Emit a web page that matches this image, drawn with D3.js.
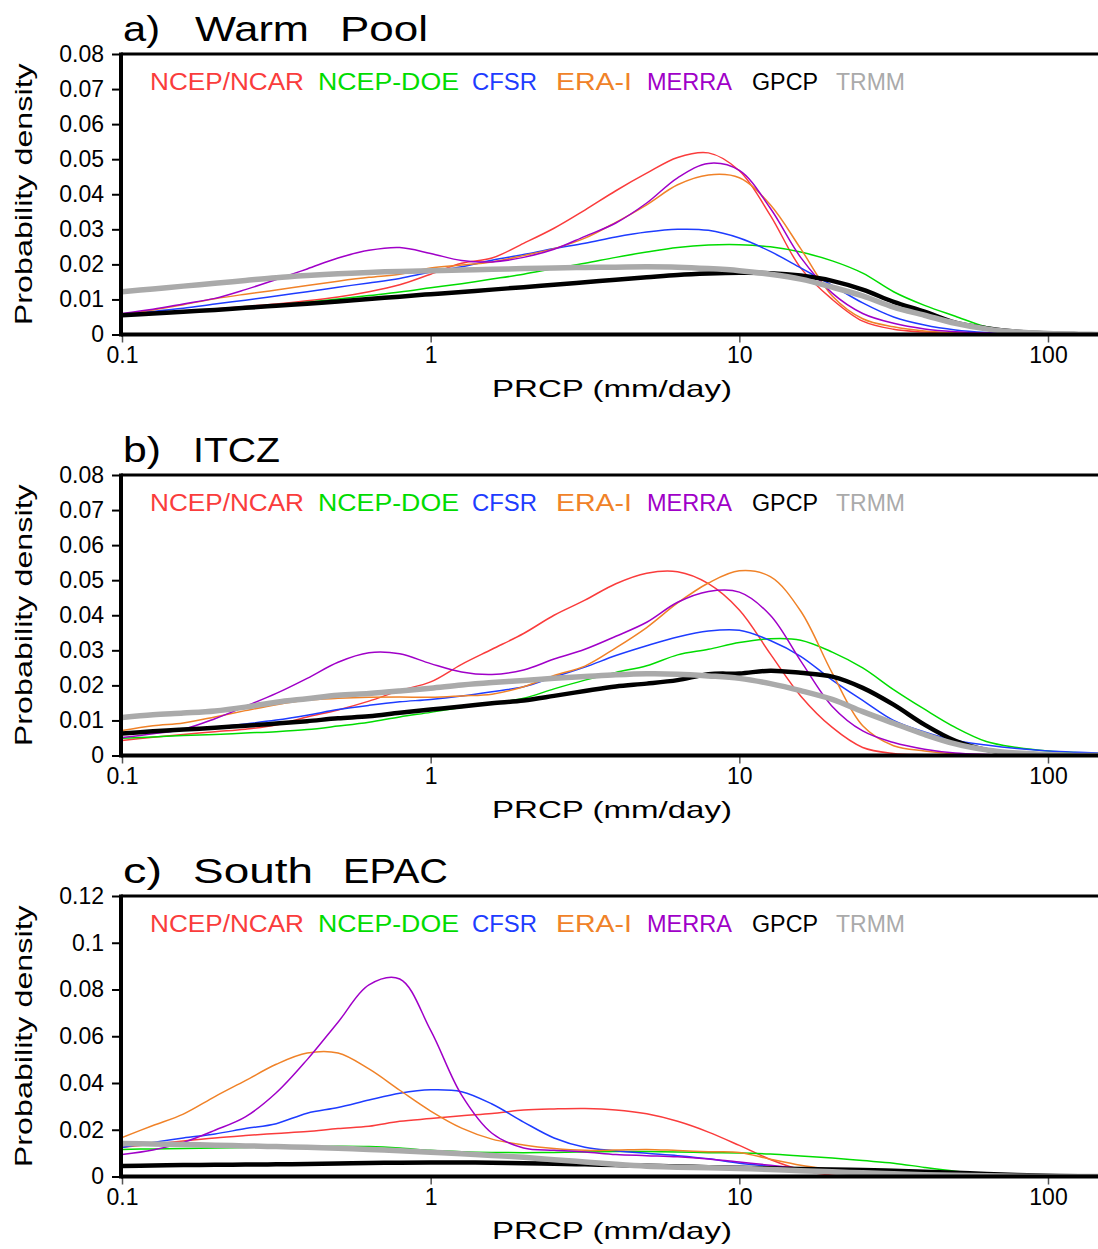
<!DOCTYPE html>
<html><head><meta charset="utf-8">
<script src="https://cdn.jsdelivr.net/npm/d3@7"></script>
<style>
body{margin:0;background:#fff}
svg{display:block}
text{font-family:"Liberation Sans",Arial,sans-serif}
</style>
</head><body>
<svg id="chart" width="1098" height="1249"></svg>
<script>
// ---------- data ----------
const prcpBins = [0.1,0.126,0.158,0.2,0.251,0.316,0.398,0.501,0.631,0.794,1,1.26,1.58,2,2.51,3.16,3.98,5.01,6.31,7.94,10,12.6,15.8,20,25.1,31.6,39.8,50.1,63.1,79.4,100,126,158];
const xTickValues = [0.1,1,10,100];
const seriesNames = ["NCEP/NCAR","NCEP-DOE","CFSR","ERA-I","MERRA","GPCP","TRMM"];
const seriesColors = ["#fa3c3c","#00dc00","#1e3cff","#f08228","#a000c8","#000000","#aaaaaa"];
const panelTitles = [["a)","Warm","Pool"],["b)","ITCZ"],["c)","South","EPAC"]];
const yTicksAB = [0,0.01,0.02,0.03,0.04,0.05,0.06,0.07,0.08];
const yTicksC = [0,0.02,0.04,0.06,0.08,0.1,0.12];

// a) Warm Pool
const warmPoolNcepNcar = [0.0055,0.0061,0.0067,0.0073,0.008,0.0087,0.0096,0.0107,0.0122,0.0142,0.0172,0.0203,0.0218,0.026,0.0303,0.0355,0.041,0.046,0.0505,0.0518,0.0467,0.034,0.019,0.010,0.0038,0.0015,0.0007,0.0003,0.0001,0,0,0,0];
const warmPoolNcepDoe = [0.0058,0.0062,0.0066,0.0071,0.0077,0.0084,0.0092,0.0101,0.0111,0.0121,0.0133,0.0145,0.0158,0.0172,0.0188,0.0203,0.022,0.0235,0.0248,0.0255,0.0256,0.025,0.0235,0.021,0.0175,0.0122,0.0083,0.0052,0.0022,0.0009,0.0003,0.0001,0];
const warmPoolCfsr = [0.0058,0.0066,0.0075,0.0087,0.0098,0.011,0.0122,0.0135,0.0147,0.016,0.0178,0.0193,0.0212,0.0228,0.0245,0.026,0.0278,0.0292,0.030,0.0297,0.0275,0.0237,0.019,0.014,0.009,0.005,0.0027,0.0013,0.0006,0.0003,0.0001,0,0];
const warmPoolEraI = [0.0058,0.007,0.0085,0.0102,0.0115,0.0127,0.014,0.0152,0.0163,0.0172,0.019,0.0198,0.0207,0.0225,0.0245,0.0275,0.032,0.037,0.0427,0.0455,0.0447,0.037,0.0245,0.011,0.0045,0.0022,0.001,0.0005,0.0002,0.0001,0,0,0];
const warmPoolMerra = [0.006,0.0072,0.0087,0.0103,0.0128,0.0157,0.0187,0.0218,0.024,0.0248,0.0231,0.0211,0.0207,0.022,0.0243,0.028,0.0318,0.0375,0.0447,0.0488,0.0468,0.036,0.022,0.0118,0.006,0.0032,0.0016,0.0008,0.0004,0.0002,0.0001,0,0];
const warmPoolGpcp = [0.0055,0.006,0.0065,0.007,0.0076,0.0082,0.0088,0.0094,0.0101,0.0108,0.0115,0.0121,0.0128,0.0135,0.0142,0.0149,0.0156,0.0163,0.017,0.0174,0.0176,0.0175,0.0168,0.0153,0.0128,0.0093,0.0065,0.0034,0.0018,0.0008,0.0003,0.0001,0];
const warmPoolTrmm = [0.0122,0.013,0.0138,0.0146,0.0154,0.0162,0.0168,0.0173,0.0177,0.018,0.0182,0.0184,0.0186,0.0188,0.019,0.0191,0.0192,0.0193,0.0192,0.0188,0.0182,0.0172,0.0158,0.0135,0.011,0.0078,0.0055,0.0032,0.0016,0.0007,0.0003,0.0001,0];

// b) ITCZ
const itczNcepNcar = [0.0043,0.0052,0.006,0.0068,0.0075,0.0087,0.011,0.013,0.0155,0.0185,0.021,0.026,0.0303,0.0348,0.040,0.0443,0.049,0.052,0.0524,0.049,0.0415,0.029,0.017,0.008,0.0023,0.0006,0.0002,0,0,0,0,0,0];
const itczNcepDoe = [0.0049,0.0053,0.0057,0.006,0.0064,0.0068,0.0074,0.0084,0.0095,0.011,0.0123,0.0137,0.0149,0.0163,0.019,0.0215,0.0237,0.0256,0.0287,0.0303,0.0322,0.0333,0.0329,0.0295,0.025,0.0188,0.0132,0.008,0.004,0.0023,0.0013,0.0008,0.0005];
const itczCfsr = [0.0062,0.0068,0.0074,0.0081,0.009,0.0101,0.0115,0.0131,0.0143,0.0153,0.016,0.017,0.0182,0.0196,0.0224,0.0252,0.0285,0.0313,0.0338,0.0355,0.0357,0.0328,0.0283,0.0215,0.0157,0.010,0.0067,0.0043,0.003,0.002,0.0013,0.0009,0.0006];
const itczEraI = [0.0071,0.0085,0.0093,0.011,0.0128,0.0145,0.0158,0.0163,0.0166,0.0167,0.0166,0.017,0.0175,0.0196,0.0228,0.0255,0.0307,0.0365,0.0435,0.0492,0.0527,0.051,0.0412,0.0235,0.0085,0.0028,0.0013,0.0005,0.0002,0,0,0,0];
const itczMerra = [0.0051,0.0062,0.0075,0.0105,0.014,0.0177,0.022,0.0266,0.0293,0.029,0.0262,0.0238,0.0231,0.0244,0.0275,0.0303,0.034,0.038,0.0437,0.0468,0.0466,0.040,0.027,0.014,0.007,0.0037,0.0018,0.0007,0.0003,0.0001,0,0,0];
const itczGpcp = [0.0063,0.0069,0.0074,0.0079,0.0085,0.0091,0.0098,0.0106,0.0112,0.0122,0.0131,0.014,0.0149,0.0157,0.017,0.0184,0.0197,0.0205,0.0215,0.0232,0.0234,0.0242,0.0236,0.0225,0.0193,0.0145,0.0088,0.0042,0.0016,0.0005,0.0002,0,0];
const itczTrmm = [0.0108,0.0116,0.0121,0.0127,0.0138,0.0152,0.0162,0.0172,0.0177,0.0184,0.0192,0.0201,0.0208,0.0214,0.022,0.0225,0.023,0.0233,0.0232,0.0227,0.022,0.0205,0.0185,0.016,0.0125,0.0092,0.006,0.0033,0.0016,0.0007,0.0003,0,0];

// c) South EPAC
const epacNcepNcar = [0.0125,0.0138,0.0152,0.0165,0.0175,0.0184,0.0192,0.0205,0.0215,0.0236,0.0248,0.026,0.027,0.0284,0.0289,0.0291,0.0285,0.0268,0.0236,0.019,0.0133,0.0073,0.0029,0.0005,0,0,0,0,0,0,0,0,0];
const epacNcepDoe = [0.0116,0.0118,0.012,0.0122,0.0124,0.0126,0.0128,0.0129,0.0128,0.0122,0.0112,0.0106,0.0103,0.0102,0.0103,0.0105,0.0107,0.0107,0.0105,0.0102,0.0101,0.0096,0.0088,0.0079,0.0068,0.0057,0.0039,0.0023,0.0011,0.0005,0.0002,0,0];
const epacCfsr = [0.0124,0.0146,0.0165,0.0182,0.0205,0.0226,0.0271,0.0295,0.0327,0.0356,0.0371,0.0363,0.031,0.0233,0.0165,0.0125,0.011,0.0099,0.0089,0.0076,0.0057,0.0044,0.0032,0.0022,0.0013,0.0007,0.0003,0,0,0,0,0,0];
const epacEraI = [0.0167,0.0218,0.0267,0.0342,0.041,0.048,0.0528,0.0528,0.046,0.0369,0.028,0.0207,0.016,0.0135,0.012,0.0112,0.0113,0.0116,0.0111,0.0106,0.0103,0.0074,0.0048,0.003,0.0015,0.0007,0.0003,0,0,0,0,0,0];
const epacMerra = [0.0094,0.0113,0.0146,0.0198,0.0255,0.0358,0.050,0.066,0.082,0.0845,0.0625,0.0348,0.0185,0.0122,0.0112,0.0105,0.0094,0.0089,0.0084,0.0075,0.0062,0.0048,0.0035,0.0022,0.0012,0.0006,0.0002,0,0,0,0,0,0];
const epacGpcp = [0.0045,0.0047,0.0049,0.005,0.0051,0.0052,0.0054,0.0056,0.0058,0.0059,0.006,0.006,0.0059,0.0057,0.0055,0.0052,0.0049,0.0046,0.0043,0.004,0.0037,0.0035,0.0032,0.003,0.0028,0.0025,0.002,0.0016,0.0011,0.0006,0.0003,0.0001,0];
const epacTrmm = [0.0141,0.0139,0.0137,0.0134,0.0131,0.0128,0.0125,0.0121,0.0116,0.011,0.0104,0.0097,0.009,0.0082,0.0072,0.0062,0.0052,0.0044,0.004,0.0037,0.0034,0.003,0.0025,0.002,0.0016,0.0012,0.0008,0.0005,0.0003,0.0001,0,0,0];

// ---------- build ----------
const panels = [
  {title: panelTitles[0], yMax: 0.08, yTicks: yTicksAB,
   series: [warmPoolNcepNcar, warmPoolNcepDoe, warmPoolCfsr, warmPoolEraI, warmPoolMerra, warmPoolGpcp, warmPoolTrmm]},
  {title: panelTitles[1], yMax: 0.08, yTicks: yTicksAB,
   series: [itczNcepNcar, itczNcepDoe, itczCfsr, itczEraI, itczMerra, itczGpcp, itczTrmm]},
  {title: panelTitles[2], yMax: 0.12, yTicks: yTicksC,
   series: [epacNcepNcar, epacNcepDoe, epacCfsr, epacEraI, epacMerra, epacGpcp, epacTrmm]}
];

const svg = d3.select("#chart");
const W = 1098;
const left = 122;
const tops = [54, 475, 896];
const plotH = 280.5;
const titleWordX = [[123, 195, 340], [123, 193], [123, 193, 343]];
const titleWordW = [[37, 114, 88], [38, 87], [39, 120, 105]];
const legendX = [150, 318, 472, 556, 647, 752, 836];
const legendW = [154, 141, 65, 76, 85, 66, 69];

const x = d3.scaleLog().domain([0.1, 100]).range([left, 1048]);

panels.forEach((p, pi) => {
  const top = tops[pi], bottom = top + plotH;
  const y = d3.scaleLinear().domain([0, p.yMax]).range([bottom, top]);
  const g = svg.append("g");

  const clipId = "clip" + pi;
  g.append("clipPath").attr("id", clipId).append("rect")
    .attr("x", left).attr("y", top - 2).attr("width", W - left).attr("height", plotH + 2);

  // title
  p.title.forEach((w, wi) => {
    g.append("text").attr("x", titleWordX[pi][wi]).attr("y", top - 13)
      .attr("font-size", 35).attr("fill", "#000")
      .attr("textLength", titleWordW[pi][wi]).attr("lengthAdjust", "spacingAndGlyphs")
      .text(w);
  });

  // lines
  const line = d3.line()
    .x((d, i) => x(prcpBins[i]))
    .y(d => y(d))
    .curve(d3.curveCatmullRom.alpha(0.5));
  const lg = g.append("g").attr("clip-path", `url(#${clipId})`);
  p.series.forEach((s, si) => {
    lg.append("path").datum(s)
      .attr("d", line)
      .attr("fill", "none")
      .attr("stroke", seriesColors[si])
      .attr("stroke-width", si === 5 ? 4.5 : (si === 6 ? 5.5 : 1.5))
      .attr("stroke-linejoin", "round")
      .attr("stroke-linecap", "round");
  });

  // legend
  seriesNames.forEach((n, si) => {
    g.append("text").attr("x", legendX[si]).attr("y", top + 36)
      .attr("font-size", 23).attr("fill", seriesColors[si])
      .attr("textLength", legendW[si]).attr("lengthAdjust", "spacingAndGlyphs")
      .text(n);
  });

  // y axis
  const ya = d3.axisLeft(y).tickValues(p.yTicks).tickSize(9).tickPadding(8)
    .tickFormat(d3.format("~g"));
  const yg = g.append("g").attr("transform", `translate(${left - 1},0)`).call(ya);
  yg.select(".domain").remove();
  yg.selectAll(".tick line").attr("stroke", "#000").attr("stroke-width", 2);
  yg.selectAll(".tick text").attr("font-size", 23).attr("fill", "#000")
    .attr("font-family", "Liberation Sans, Arial, sans-serif");

  // x axis
  const xa = d3.axisBottom(x).tickValues(xTickValues).tickSize(7).tickPadding(4)
    .tickFormat(d3.format("~g"));
  const xg = g.append("g").attr("transform", `translate(0,${bottom + 1})`).call(xa);
  xg.select(".domain").remove();
  xg.selectAll(".tick line").attr("stroke", "#555").attr("stroke-width", 1.5);
  xg.selectAll(".tick text").attr("font-size", 23).attr("fill", "#000")
    .attr("font-family", "Liberation Sans, Arial, sans-serif");

  // frame
  g.append("line").attr("x1", left - 1).attr("x2", W).attr("y1", top).attr("y2", top)
    .attr("stroke", "#000").attr("stroke-width", 3);
  g.append("line").attr("x1", left - 1).attr("x2", W).attr("y1", bottom).attr("y2", bottom)
    .attr("stroke", "#000").attr("stroke-width", 4);
  g.append("line").attr("x1", left - 1).attr("x2", left - 1).attr("y1", top - 1.5).attr("y2", bottom + 2)
    .attr("stroke", "#000").attr("stroke-width", 4);

  // axis titles
  g.append("text").attr("x", 492).attr("y", bottom + 62)
    .attr("font-size", 24).attr("fill", "#000")
    .attr("textLength", 240).attr("lengthAdjust", "spacingAndGlyphs")
    .text("PRCP (mm/day)");
  const cy = (top + bottom) / 2;
  g.append("text").attr("transform", `translate(32,${cy + 131}) rotate(-90)`)
    .attr("font-size", 24).attr("fill", "#000")
    .attr("textLength", 262).attr("lengthAdjust", "spacingAndGlyphs")
    .text("Probability density");
});
</script>
</body></html>
